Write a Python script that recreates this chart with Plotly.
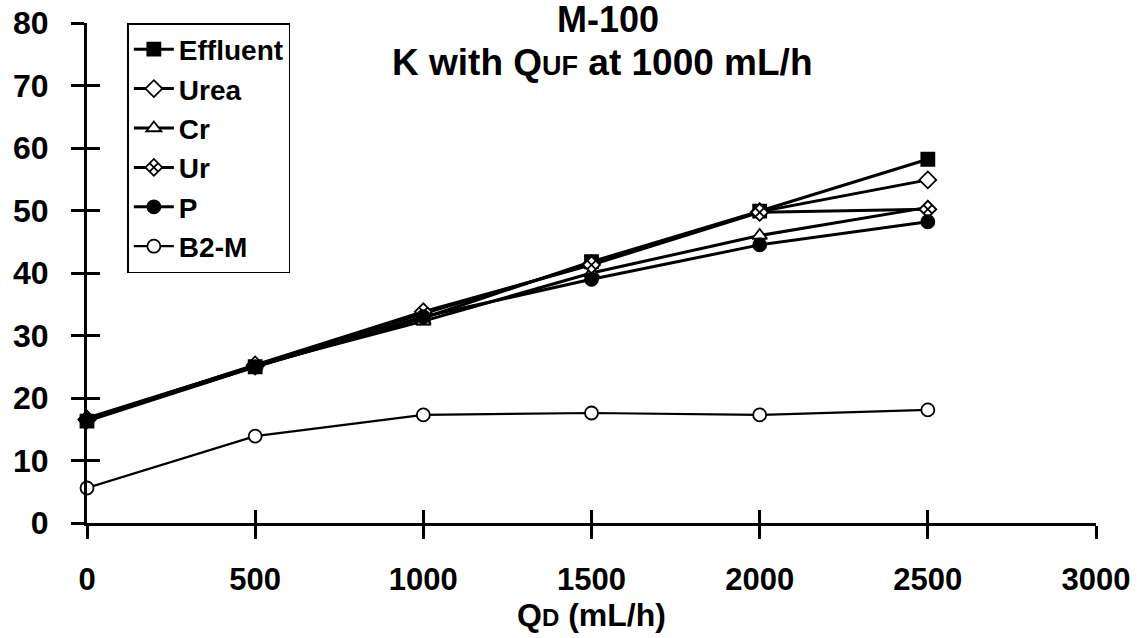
import plotly.graph_objects as go

qd = [0, 500, 1000, 1500, 2000, 2500]
effluent = [16.3, 25.0, 32.8, 41.8, 49.9, 58.2]
urea = [16.5, 25.1, 33.5, 41.5, 49.8, 54.9]
cr = [16.8, 25.2, 32.3, 40.0, 46.0, 50.5]
ur = [16.6, 25.3, 33.8, 41.3, 49.7, 50.2]
p = [16.5, 25.0, 33.0, 39.0, 44.5, 48.2]
b2m = [5.6, 13.9, 17.3, 17.6, 17.3, 18.1]

x_ticks = [0, 500, 1000, 1500, 2000, 2500, 3000]
y_ticks = [0, 10, 20, 30, 40, 50, 60, 70, 80]

FONT = "Liberation Sans, Arial, sans-serif"

series = [
    ("Effluent", effluent, "square", "black", 3),
    ("Urea", urea, "diamond", "white", 3),
    ("Cr", cr, "triangle-up", "white", 3),
    ("Ur", ur, "diamond-x", "white", 3),
    ("P", p, "circle", "black", 3),
    ("B2-M", b2m, "circle", "white", 2.2),
]

fig = go.Figure()
for i, (name, vals, sym, fill, lw) in enumerate(series):
    fig.add_trace(go.Scatter(
        x=qd, y=vals, name=name, mode="lines+markers",
        line=dict(color="black", width=lw),
        marker=dict(symbol=sym, size=13, color=fill,
                    line=dict(color="black", width=1.8)),
        cliponaxis=False, legendgroup=f"g{i}",
    ))

# invisible trace on the overlay axes so inward ticks are drawn
fig.add_trace(go.Scatter(x=qd, y=b2m, xaxis="x2", yaxis="y2",
                         mode="lines", line=dict(width=0),
                         showlegend=False, hoverinfo="skip", opacity=0))

axis_common = dict(showline=True, linecolor="black", linewidth=3,
                   tickcolor="black", tickwidth=3, ticklen=13,
                   showgrid=False, zeroline=False, automargin=False)

fig.update_layout(
    width=1147, height=638,
    margin=dict(l=87, r=51, t=23, b=115),
    paper_bgcolor="white", plot_bgcolor="white",
    font=dict(family=FONT, color="black"),
    xaxis=dict(range=[0, 3000], tickvals=x_ticks, ticks="outside",
               tickfont=dict(size=31, family=FONT, weight="bold"),
               ticklabelstandoff=14,
               title=dict(text="<b>Q<span style='font-size:24px'>D</span> (mL/h)</b>",
                          font=dict(size=32), standoff=0),
               **axis_common),
    yaxis=dict(range=[0, 80], tickvals=y_ticks, ticks="outside",
               tickfont=dict(size=32, family=FONT, weight="bold"),
               ticklabelstandoff=16,
               **axis_common),
    xaxis2=dict(range=[0, 3000], tickvals=x_ticks, ticks="inside",
                overlaying="x", anchor="y2", showticklabels=False,
                **axis_common),
    yaxis2=dict(range=[0, 80], tickvals=y_ticks, ticks="inside",
                overlaying="y", anchor="x2", showticklabels=False,
                **axis_common),
    legend=dict(x=0.04, y=1.0, xanchor="left", yanchor="top",
                bordercolor="black", borderwidth=1.5, bgcolor="white",
                font=dict(size=28, family=FONT, weight="bold"),
                tracegroupgap=0, itemwidth=40),
    showlegend=True,
)

fig.add_annotation(text="<b>M-100</b>", xref="paper", yref="paper",
                   x=0.516, y=1.006, yanchor="middle", showarrow=False,
                   font=dict(size=36, family=FONT))
fig.add_annotation(text="<b>K with Q<span style='font-size:27px'>UF</span> at 1000 mL/h</b>",
                   xref="paper", yref="paper", x=0.51, y=0.92,
                   yanchor="middle", showarrow=False,
                   font=dict(size=37, family=FONT))

fig.write_html("out.html",
               config={"displayModeBar": False},
               post_script="document.body.style.margin='0px';"
                           "document.body.style.overflow='hidden';")
